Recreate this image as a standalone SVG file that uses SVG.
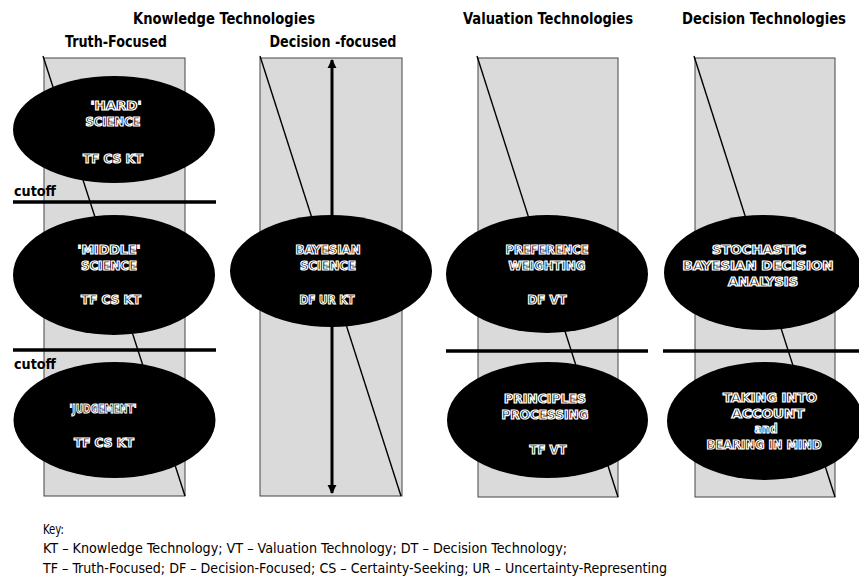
<svg xmlns="http://www.w3.org/2000/svg" width="859" height="579" viewBox="0 0 859 579">
<style>
.hdr{font-family:"Liberation Sans Narrow","DejaVu Sans Condensed","Liberation Sans",sans-serif;font-weight:bold;font-size:16px;fill:#000;text-anchor:middle}
.cut{font-family:"Liberation Sans Narrow","DejaVu Sans Condensed","Liberation Sans",sans-serif;font-weight:bold;font-size:14px;fill:#000}
.col{fill:#dadada;stroke:#444;stroke-width:1}
.diag{stroke:#000;stroke-width:1.4;fill:none}
.cutline{stroke:#000;stroke-width:3.5}
.ell{fill:#000}
.et{font-family:"Liberation Sans Narrow","DejaVu Sans Condensed","Liberation Sans",sans-serif;font-weight:bold;font-size:13px;fill:#000;stroke:#fff;stroke-width:1.2;text-anchor:middle}
.key{font-family:"Liberation Sans Narrow","DejaVu Sans Condensed","Liberation Sans",sans-serif;font-size:13.5px;fill:#000}
</style>
<defs>
<marker id="ah" viewBox="0 0 10 20" refX="9" refY="10" markerWidth="3" markerHeight="6" orient="auto-start-reverse" markerUnits="strokeWidth">
<path d="M0,5 L10,10 L0,15 Z" fill="#000"/>
</marker>
</defs>
<rect width="859" height="579" fill="#fff"/>

<g id="headers">
<text class="hdr" x="224" y="24" textLength="182" lengthAdjust="spacingAndGlyphs">Knowledge Technologies</text>
<text class="hdr" x="116" y="47" textLength="102" lengthAdjust="spacingAndGlyphs">Truth-Focused</text>
<text class="hdr" x="333" y="47" textLength="127" lengthAdjust="spacingAndGlyphs">Decision -focused</text>
<text class="hdr" x="548" y="24" textLength="170" lengthAdjust="spacingAndGlyphs">Valuation Technologies</text>
<text class="hdr" x="764" y="24" textLength="164" lengthAdjust="spacingAndGlyphs">Decision Technologies</text>
</g>

<g id="columns">
<rect class="col" x="44" y="58" width="141" height="438"/>
<rect class="col" x="260" y="58" width="142" height="438"/>
<rect class="col" x="478" y="58" width="140" height="439"/>
<rect class="col" x="695" y="58" width="140" height="439"/>
</g>

<g id="diagonals">
<line class="diag" x1="43" y1="56" x2="185" y2="496"/>
<line class="diag" x1="260" y1="56" x2="401" y2="496"/>
<line class="diag" x1="477" y1="56" x2="618" y2="497"/>
<line class="diag" x1="694" y1="56" x2="835" y2="497"/>
</g>

<g id="connectors">
<line x1="332" y1="60" x2="332" y2="493" stroke="#000" stroke-width="3" marker-start="url(#ah)" marker-end="url(#ah)"/>
</g>

<g id="cutoffs">
<line class="cutline" x1="13" y1="202" x2="216" y2="202"/>
<line class="cutline" x1="13" y1="350" x2="216" y2="350"/>
<line class="cutline" x1="446" y1="351" x2="648" y2="351"/>
<line class="cutline" x1="663" y1="351" x2="859" y2="351"/>
<text class="cut" x="14" y="196" textLength="42" lengthAdjust="spacingAndGlyphs">cutoff</text>
<text class="cut" x="14" y="369" textLength="42" lengthAdjust="spacingAndGlyphs">cutoff</text>
</g>

<g id="hard-science">
<ellipse class="ell" cx="114" cy="129.5" rx="101" ry="53.5"/>
<text class="et" x="116" y="110" textLength="51" lengthAdjust="spacingAndGlyphs">'HARD'</text>
<text class="et" x="113" y="126" textLength="55" lengthAdjust="spacingAndGlyphs">SCIENCE</text>
<text class="et" x="113" y="163" textLength="60" lengthAdjust="spacingAndGlyphs">TF CS KT</text>
</g>

<g id="middle-science">
<ellipse class="ell" cx="114" cy="275" rx="101" ry="60"/>
<text class="et" x="109" y="254" textLength="63" lengthAdjust="spacingAndGlyphs">'MIDDLE'</text>
<text class="et" x="109" y="270" textLength="56" lengthAdjust="spacingAndGlyphs">SCIENCE</text>
<text class="et" x="111" y="304" textLength="60" lengthAdjust="spacingAndGlyphs">TF CS KT</text>
</g>

<g id="judgement">
<ellipse class="ell" cx="114.5" cy="420" rx="101" ry="58"/>
<text class="et" x="103" y="413" textLength="67" lengthAdjust="spacingAndGlyphs">'JUDGEMENT'</text>
<text class="et" x="104" y="447" textLength="60" lengthAdjust="spacingAndGlyphs">TF CS KT</text>
</g>

<g id="bayesian-science">
<ellipse class="ell" cx="331" cy="271" rx="101" ry="56"/>
<text class="et" x="328" y="254" textLength="65" lengthAdjust="spacingAndGlyphs">BAYESIAN</text>
<text class="et" x="328" y="270" textLength="56" lengthAdjust="spacingAndGlyphs">SCIENCE</text>
<text class="et" x="327" y="304" textLength="55" lengthAdjust="spacingAndGlyphs">DF UR KT</text>
</g>

<g id="preference-weighting">
<ellipse class="ell" cx="547" cy="274" rx="101" ry="59"/>
<text class="et" x="547" y="254" textLength="83" lengthAdjust="spacingAndGlyphs">PREFERENCE</text>
<text class="et" x="547" y="270" textLength="77" lengthAdjust="spacingAndGlyphs">WEIGHTING</text>
<text class="et" x="547" y="304" textLength="39" lengthAdjust="spacingAndGlyphs">DF VT</text>
</g>

<g id="principles-processing">
<ellipse class="ell" cx="547.5" cy="420" rx="100.5" ry="58"/>
<text class="et" x="545" y="403" textLength="82" lengthAdjust="spacingAndGlyphs">PRINCIPLES</text>
<text class="et" x="545" y="419" textLength="87" lengthAdjust="spacingAndGlyphs">PROCESSING</text>
<text class="et" x="548" y="454" textLength="37" lengthAdjust="spacingAndGlyphs">TF VT</text>
</g>

<g id="stochastic-bayesian">
<ellipse class="ell" cx="763" cy="272.5" rx="99" ry="57.5"/>
<text class="et" x="759" y="254" textLength="94" lengthAdjust="spacingAndGlyphs">STOCHASTIC</text>
<text class="et" x="758" y="270" textLength="151" lengthAdjust="spacingAndGlyphs">BAYESIAN DECISION</text>
<text class="et" x="763" y="286" textLength="70" lengthAdjust="spacingAndGlyphs">ANALYSIS</text>
</g>

<g id="taking-into-account">
<ellipse class="ell" cx="765" cy="421" rx="98" ry="59"/>
<text class="et" x="770" y="402" textLength="94" lengthAdjust="spacingAndGlyphs">TAKING INTO</text>
<text class="et" x="768" y="418" textLength="73" lengthAdjust="spacingAndGlyphs">ACCOUNT</text>
<text class="et" x="766" y="433" textLength="23" lengthAdjust="spacingAndGlyphs">and</text>
<text class="et" x="764" y="449" textLength="115" lengthAdjust="spacingAndGlyphs">BEARING IN MIND</text>
</g>

<g id="key">
<text class="key" x="43" y="534" textLength="21" lengthAdjust="spacingAndGlyphs">Key:</text>
<text class="key" x="43" y="553" textLength="524" lengthAdjust="spacingAndGlyphs">KT – Knowledge Technology; VT – Valuation Technology; DT – Decision Technology;</text>
<text class="key" x="43" y="573" textLength="624" lengthAdjust="spacingAndGlyphs">TF – Truth-Focused; DF – Decision-Focused; CS – Certainty-Seeking; UR – Uncertainty-Representing</text>
</g>
</svg>
